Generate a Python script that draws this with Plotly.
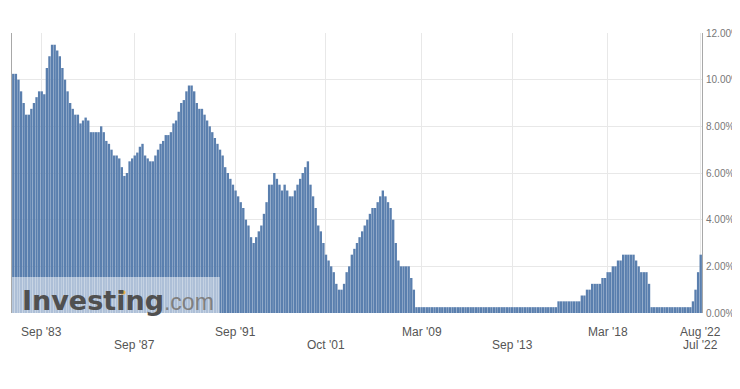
import plotly.graph_objects as go

# Policy rate (%), one bar per decision
rates_1982_2008 = [
    10.25, 10.25, 10.0, 9.5, 9.0, 8.5, 8.5, 8.75, 9.0, 9.25,
    9.5, 9.5, 9.375, 10.5, 11.0, 11.5, 11.5, 11.25, 11.0, 10.5,
    10.0, 9.5, 9.0, 8.75, 8.5, 8.5, 8.125, 8.25, 8.375, 8.25,
    7.75, 7.75, 7.75, 7.75, 8.0, 7.75, 7.375, 7.25, 7.0, 6.75,
    6.75, 6.625, 6.25, 5.875, 6.0, 6.5, 6.625, 6.75, 6.875, 7.125,
    7.25, 6.75, 6.625, 6.5, 6.5, 6.75, 7.0, 7.25, 7.375, 7.625,
    7.625, 7.75, 8.125, 8.25, 8.625, 9.0, 9.125, 9.5, 9.75, 9.75,
    9.5, 9.0, 8.75, 8.75, 8.5, 8.25, 8.0, 7.75, 7.5, 7.25,
    7.0, 6.75, 6.25, 6.0, 5.75, 5.5, 5.25, 5.0, 4.75, 4.5,
    4.0, 3.75, 3.25, 3.0, 3.25, 3.5, 3.75, 4.25, 4.75, 5.5,
    5.5, 6.0, 5.75, 5.5, 5.25, 5.5, 5.25, 5.0, 5.0, 5.25,
    5.5, 5.75, 6.0, 6.25, 6.5, 5.5, 5.0, 4.5, 3.75, 3.5,
    3.0, 2.5, 2.25, 2.0, 1.75, 1.25, 1.0, 1.0, 1.25, 1.75,
    2.0, 2.5, 2.75, 3.0, 3.25, 3.5, 3.75, 4.0, 4.25, 4.5,
    4.5, 4.75, 5.0, 5.25, 5.0, 4.75, 4.5, 4.0, 3.0, 2.25,
    2.0, 2.0, 2.0, 2.0, 1.5, 1.0,
]
rates_2008_2022 = [
    0.25, 0.25, 0.25, 0.25, 0.25, 0.25, 0.25, 0.25, 0.25, 0.25, 0.25,
    0.25, 0.25, 0.25, 0.25, 0.25, 0.25, 0.25, 0.25, 0.25, 0.25, 0.25,
    0.25, 0.25, 0.25, 0.25, 0.25, 0.25, 0.25, 0.25, 0.25, 0.25, 0.25,
    0.25, 0.25, 0.25, 0.25, 0.25, 0.25, 0.25, 0.25, 0.25, 0.25, 0.25,
    0.25, 0.25, 0.25, 0.25, 0.25, 0.25, 0.25, 0.25, 0.25, 0.25, 0.25,
    0.5, 0.5, 0.5, 0.5, 0.5, 0.5, 0.5, 0.5, 0.5,
    0.75, 0.75, 1.0, 1.0, 1.25, 1.25, 1.25, 1.25, 1.5, 1.5,
    1.75, 1.75, 2.0, 2.0, 2.25, 2.25, 2.5, 2.5, 2.5, 2.5, 2.5,
    2.25, 2.0, 1.75, 1.75, 1.75, 1.25,
    0.25, 0.25, 0.25, 0.25, 0.25, 0.25, 0.25, 0.25,
    0.25, 0.25, 0.25, 0.25, 0.25, 0.25, 0.25, 0.25,
    0.5, 1.0, 1.75, 2.5,
]
rates = rates_1982_2008 + rates_2008_2022

tick_index = [11, 47, 86, 121, 158, 193, 230, 266, 266]
tick_labels = ["Sep '83", "Sep '87", "Sep '91", "Oct '01", "Mar '09",
               "Sep '13", "Mar '18", "Aug '22", "Jul '22"]
tick_row = [0, 1, 0, 1, 0, 1, 0, 0, 1]
y_ticks = [0, 2, 4, 6, 8, 10, 12]
y_tick_text = [f"{v:.2f}%" for v in y_ticks]

n = len(rates)
BAR = "#5a7fae"
GRID = "#e8e8e8"

fig = go.Figure(
    go.Bar(
        x=list(range(n)),
        y=rates,
        marker=dict(color=BAR, line=dict(width=0)),
        hoverinfo="skip",
    )
)

# the page body adds an 8px offset, so the figure is 8px smaller
fig.update_layout(
    width=732,
    height=373,
    margin=dict(l=4, r=38, t=25, b=68, autoexpand=False),
    paper_bgcolor="white",
    plot_bgcolor="white",
    bargap=0.08,
    showlegend=False,
    font=dict(family="Arial, Liberation Sans", size=12, color="#555"),
)

fig.update_xaxes(
    range=[-0.5, n - 0.5],
    tickvals=sorted(set(tick_index)),
    showticklabels=False,
    showgrid=True,
    gridcolor=GRID,
    gridwidth=1,
    zeroline=False,
    showline=False,
    ticks="",
    automargin=False,
)

fig.update_yaxes(
    range=[0, 12],
    side="right",
    tickvals=y_ticks,
    ticktext=y_tick_text,
    showgrid=True,
    gridcolor=GRID,
    showline=True,
    linecolor="#a8a8a8",
    linewidth=1,
    mirror=True,
    zeroline=False,
    ticks="",
    ticklabelstandoff=1,
    ticklabeloverflow="allow",
    automargin=False,
    tickfont=dict(family="Arial, Liberation Sans", size=10, color="#777"),
)

# staggered category labels
for idx, lab, row in zip(tick_index, tick_labels, tick_row):
    fig.add_annotation(
        x=idx, xref="x",
        y=-0.068 if row == 0 else -0.116, yref="paper",
        text=lab, showarrow=False,
        xanchor="center", yanchor="middle",
        font=dict(family="Arial, Liberation Sans", size=12, color="#555"),
    )

# watermark
fig.add_shape(
    type="rect", xref="paper", yref="paper",
    x0=0, x1=0.301, y0=0, y1=0.129,
    fillcolor="white", opacity=0.5, line=dict(width=0), layer="above",
)
fig.add_annotation(
    x=0.012, xref="paper", y=0.045, yref="paper",
    xanchor="left", yanchor="middle", showarrow=False,
    text="<b>Investing</b><span style='font-family:Liberation Sans, Arial;font-size:23px;color:#808080'>.com</span>",
    font=dict(family="DejaVu Sans", size=27, color="#505050"),
)
# orange dot of the logo's "i"
fig.add_shape(
    type="circle", xref="paper", yref="paper",
    x0=0.1565, x1=0.1645, y0=0.066, y1=0.081,
    fillcolor="#eeaa44", line=dict(width=0), layer="above",
)

fig.write_html("out.html")
